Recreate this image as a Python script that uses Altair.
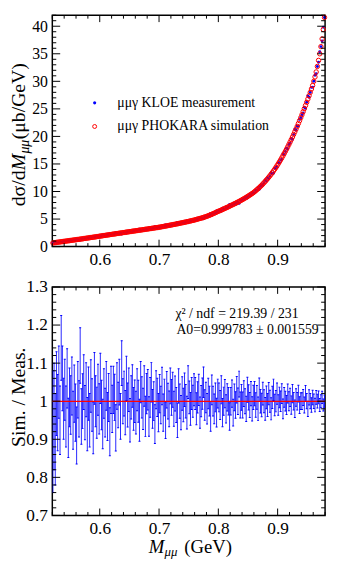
import altair as alt
import pandas as pd

FONT = "Liberation Serif"
X_DOMAIN = [0.52, 0.98]

# bin centres (GeV), 2 MeV bins
bin_centres = [round(0.521 + 0.002 * i, 3) for i in range(230)]

# PHOKARA simulation, dsigma/dM (ub/GeV)
sim_xsec = [
    0.67, 0.70, 0.73, 0.76, 0.79, 0.82, 0.85, 0.88, 0.91, 0.94,
    0.97, 1.00, 1.03, 1.06, 1.09, 1.12, 1.15, 1.18, 1.21, 1.24,
    1.27, 1.30, 1.33, 1.36, 1.39, 1.42, 1.46, 1.49, 1.52, 1.55,
    1.58, 1.62, 1.65, 1.68, 1.71, 1.74, 1.78, 1.81, 1.84, 1.88,
    1.91, 1.94, 1.98, 2.01, 2.04, 2.07, 2.11, 2.14, 2.17, 2.20,
    2.24, 2.27, 2.30, 2.33, 2.37, 2.40, 2.43, 2.46, 2.50, 2.53,
    2.56, 2.59, 2.63, 2.66, 2.69, 2.72, 2.75, 2.79, 2.82, 2.85,
    2.88, 2.91, 2.95, 2.98, 3.01, 3.04, 3.07, 3.11, 3.14, 3.17,
    3.20, 3.23, 3.27, 3.30, 3.33, 3.36, 3.40, 3.43, 3.46, 3.49,
    3.53, 3.57, 3.61, 3.65, 3.69, 3.73, 3.77, 3.81, 3.86, 3.90,
    3.94, 3.98, 4.02, 4.06, 4.11, 4.15, 4.19, 4.24, 4.28, 4.33,
    4.37, 4.42, 4.46, 4.51, 4.56, 4.61, 4.66, 4.71, 4.76, 4.81,
    4.87, 4.93, 4.99, 5.05, 5.11, 5.17, 5.23, 5.30, 5.37, 5.44,
    5.52, 5.60, 5.69, 5.78, 5.87, 5.97, 6.06, 6.16, 6.26, 6.36,
    6.45, 6.55, 6.64, 6.74, 6.83, 6.93, 7.03, 7.13, 7.23, 7.33,
    7.45, 7.55, 7.65, 7.76, 7.87, 7.98, 8.09, 8.20, 8.32, 8.44,
    8.56, 8.68, 8.81, 8.94, 9.07, 9.21, 9.35, 9.49, 9.64, 9.79,
    9.96, 10.14, 10.33, 10.52, 10.72, 10.93, 11.14, 11.36, 11.59, 11.83,
    12.07, 12.33, 12.59, 12.86, 13.14, 13.43, 13.73, 14.04, 14.36, 14.69,
    15.03, 15.38, 15.74, 16.11, 16.49, 16.88, 17.28, 17.69, 18.11, 18.54,
    18.98, 19.43, 19.89, 20.36, 20.84, 21.33, 21.83, 22.34, 22.86, 23.39,
    23.93, 24.48, 25.04, 25.61, 26.19, 26.78, 27.38, 27.99, 28.61, 29.24,
    30.00, 30.80, 31.70, 32.70, 33.80, 35.00, 36.30, 37.70, 39.40, 41.60,
]

# Sim. / Meas. ratio per bin
ratio = [
    0.92, 0.96, 0.90, 1.02, 0.97, 1.05, 0.95, 1.14, 1.06, 0.98,
    1.03, 0.96, 1.06, 0.93, 1.01, 0.99, 1.04, 0.95, 1.02, 0.97,
    0.91, 1.03, 0.98, 1.12, 0.96, 1.00, 1.05, 0.97, 1.03, 0.94,
    1.02, 0.95, 1.04, 0.99, 0.93, 1.06, 1.00, 0.97, 1.03, 0.98,
    1.06, 0.99, 0.94, 1.02, 0.97, 1.04, 0.96, 1.01, 0.92, 1.03,
    0.98, 1.03, 1.01, 0.93, 1.04, 0.99, 1.05, 0.96, 1.10, 1.00,
    1.02, 0.97, 1.06, 0.99, 1.03, 0.95, 1.01, 1.04, 0.98, 1.00,
    0.97, 1.03, 1.00, 0.95, 1.05, 1.01, 0.98, 1.04, 0.96, 1.02,
    1.03, 0.96, 1.01, 1.05, 0.98, 1.00, 0.94, 1.03, 1.01, 0.97,
    1.02, 0.99, 1.04, 0.97, 1.01, 0.95, 1.03, 1.00, 0.98, 1.04,
    1.01, 1.03, 0.98, 1.02, 0.99, 0.95, 1.04, 1.00, 0.97, 1.02,
    0.99, 1.03, 1.00, 0.97, 1.05, 1.01, 0.98, 1.02, 1.00, 1.03,
    1.02, 0.98, 1.01, 1.03, 0.97, 1.00, 1.02, 1.05, 0.99, 1.01,
    0.98, 1.02, 1.00, 0.96, 1.03, 1.00, 0.98, 1.01, 0.97, 1.02,
    1.01, 0.99, 1.03, 0.97, 1.00, 1.02, 0.98, 1.01, 1.00, 0.96,
    1.00, 1.02, 0.97, 1.01, 0.99, 1.03, 1.00, 1.045, 0.99, 1.01,
    0.99, 1.02, 1.00, 0.98, 1.03, 1.01, 0.99, 1.02, 0.98, 1.01,
    1.02, 0.99, 1.01, 0.98, 1.03, 1.00, 0.99, 1.02, 1.00, 0.98,
    1.01, 0.99, 1.02, 1.00, 0.98, 1.01, 1.03, 0.99, 1.00, 1.02,
    0.99, 1.01, 1.00, 1.02, 0.98, 1.01, 1.00, 0.99, 1.02, 1.00,
    1.01, 0.99, 1.02, 1.00, 0.98, 1.01, 1.00, 1.02, 0.99, 1.00,
    1.00, 1.01, 0.99, 1.02, 1.00, 0.98, 1.01, 1.00, 0.99, 1.01,
    1.00, 0.99, 1.01, 1.00, 1.01, 0.99, 1.00, 1.01, 0.99, 1.00,
]

ratio_err = [
    0.160, 0.140, 0.120, 0.110, 0.100, 0.095, 0.090, 0.085, 0.085, 0.080,
    0.080, 0.080, 0.078, 0.078, 0.077, 0.077, 0.076, 0.076, 0.075, 0.075,
    0.075, 0.074, 0.074, 0.073, 0.073, 0.072, 0.072, 0.071, 0.071, 0.070,
    0.070, 0.070, 0.069, 0.069, 0.068, 0.068, 0.067, 0.067, 0.067, 0.066,
    0.066, 0.065, 0.065, 0.065, 0.064, 0.064, 0.063, 0.063, 0.063, 0.062,
    0.062, 0.062, 0.061, 0.061, 0.061, 0.060, 0.060, 0.060, 0.059, 0.059,
    0.059, 0.058, 0.058, 0.058, 0.057, 0.057, 0.057, 0.056, 0.056, 0.056,
    0.056, 0.055, 0.055, 0.055, 0.054, 0.054, 0.054, 0.053, 0.053, 0.053,
    0.053, 0.052, 0.052, 0.052, 0.051, 0.051, 0.051, 0.050, 0.050, 0.050,
    0.050, 0.049, 0.049, 0.049, 0.048, 0.048, 0.048, 0.047, 0.047, 0.047,
    0.047, 0.046, 0.046, 0.046, 0.046, 0.045, 0.045, 0.045, 0.045, 0.044,
    0.044, 0.044, 0.044, 0.043, 0.043, 0.043, 0.043, 0.042, 0.042, 0.042,
    0.042, 0.042, 0.041, 0.041, 0.041, 0.041, 0.041, 0.040, 0.040, 0.040,
    0.040, 0.040, 0.039, 0.039, 0.039, 0.039, 0.039, 0.038, 0.038, 0.038,
    0.038, 0.038, 0.037, 0.037, 0.037, 0.037, 0.037, 0.036, 0.036, 0.036,
    0.036, 0.036, 0.035, 0.035, 0.035, 0.035, 0.035, 0.034, 0.034, 0.034,
    0.034, 0.034, 0.033, 0.033, 0.033, 0.033, 0.033, 0.032, 0.032, 0.032,
    0.032, 0.032, 0.031, 0.031, 0.031, 0.031, 0.031, 0.030, 0.030, 0.030,
    0.030, 0.030, 0.029, 0.029, 0.029, 0.029, 0.028, 0.028, 0.028, 0.028,
    0.027, 0.027, 0.027, 0.026, 0.026, 0.026, 0.026, 0.025, 0.025, 0.025,
    0.024, 0.024, 0.024, 0.023, 0.023, 0.023, 0.023, 0.022, 0.022, 0.022,
    0.022, 0.021, 0.021, 0.021, 0.020, 0.020, 0.020, 0.020, 0.019, 0.019,
    0.019, 0.018, 0.018, 0.018, 0.017, 0.017, 0.017, 0.016, 0.016, 0.016,
]

fit_A0 = 0.999783

x_major = [0.6, 0.7, 0.8, 0.9]
x_minor = [round(0.52 + 0.02 * i, 2) for i in range(24)]
x_minor = [v for v in x_minor if v not in x_major]
y1_major = [0, 5, 10, 15, 20, 25, 30, 35, 40]
y1_minor = [v for v in range(0, 43) if v % 5 != 0]
y2_major = [0.7, 0.8, 0.9, 1.0, 1.1, 1.2, 1.3]
y2_minor = [round(0.7 + 0.02 * i, 2) for i in range(31)]
y2_minor = [v for v in y2_minor if round(v * 10, 6) != round(v * 10)]

meas_xsec = [s / r for s, r in zip(sim_xsec, ratio)]

df_top = pd.DataFrame({"mass": bin_centres, "meas": meas_xsec, "sim": sim_xsec})
df_ratio = pd.DataFrame({
    "mass": bin_centres,
    "lo": [r - e for r, e in zip(ratio, ratio_err)],
    "hi": [r + e for r, e in zip(ratio, ratio_err)],
})
df_fit = pd.DataFrame({"x1": [X_DOMAIN[0]], "x2": [X_DOMAIN[1]], "y": [fit_A0]})
one = pd.DataFrame({"k": [0]})

W, H1, H2 = 277, 235, 232
xscale = alt.Scale(domain=X_DOMAIN, nice=False, zero=False)
y1scale = alt.Scale(domain=[0, 42], nice=False, zero=False)
y2scale = alt.Scale(domain=[0.7, 1.3], nice=False, zero=False)

axis_common = dict(labelFont=FONT, labelColor="black", ticks=False, domain=False,
                   grid=False, title=None)
x_axis = alt.Axis(values=x_major, format=".1f", labelFontSize=17.5, labelPadding=4,
                  **axis_common)
y1_axis = alt.Axis(values=y1_major, format="d", labelFontSize=16, labelPadding=5,
                   **axis_common)
y2_axis = alt.Axis(values=y2_major, labelFontSize=17.5, labelPadding=5,
                   labelExpr="datum.value == 1 ? '1' : format(datum.value, '.1f')",
                   **axis_common)


def frame_ticks(yscale, yaxis, ymaj, ymin, H):
    out = []
    for vals, L in ((x_major, 7), (x_minor, 3.5)):
        d = pd.DataFrame({"v": vals})
        out.append(alt.Chart(d).mark_rule(color="black", strokeWidth=1).encode(
            x=alt.X("v:Q", scale=xscale, axis=x_axis), y=alt.value(H), y2=alt.value(H - L)))
        out.append(alt.Chart(d).mark_rule(color="black", strokeWidth=1).encode(
            x=alt.X("v:Q", scale=xscale, axis=x_axis), y=alt.value(0), y2=alt.value(L)))
    for vals, L in ((ymaj, 8), (ymin, 4)):
        d = pd.DataFrame({"v": vals})
        out.append(alt.Chart(d).mark_rule(color="black", strokeWidth=1).encode(
            y=alt.Y("v:Q", scale=yscale, axis=yaxis), x=alt.value(0), x2=alt.value(L)))
        out.append(alt.Chart(d).mark_rule(color="black", strokeWidth=1).encode(
            y=alt.Y("v:Q", scale=yscale, axis=yaxis), x=alt.value(W), x2=alt.value(W - L)))
    return out


def txt(s, x, y, size, align="left", baseline="alphabetic", angle=0, style="normal"):
    kw = dict(text=s, align=align, baseline=baseline, font=FONT, fontSize=size,
              color="black", fontStyle=style)
    if angle:
        kw["angle"] = angle
    return alt.Chart(one).mark_text(**kw).encode(x=alt.value(x), y=alt.value(y))


# ---------------- top panel ----------------
meas_layer = alt.Chart(df_top).mark_circle(color="#0000ff", size=9, opacity=1).encode(
    x=alt.X("mass:Q", scale=xscale, axis=x_axis),
    y=alt.Y("meas:Q", scale=y1scale, axis=y1_axis),
)
sim_layer = alt.Chart(df_top).mark_point(shape="circle", filled=False, color="#ff0000",
                                         size=20, strokeWidth=1, opacity=1).encode(
    x=alt.X("mass:Q", scale=xscale, axis=x_axis),
    y=alt.Y("sim:Q", scale=y1scale, axis=y1_axis),
)

legend_layers = [
    alt.Chart(one).mark_circle(color="#0000ff", size=10, opacity=1).encode(
        x=alt.value(43), y=alt.value(89)),
    alt.Chart(one).mark_point(shape="circle", filled=False, color="#ff0000", size=16,
                              strokeWidth=1, opacity=1).encode(x=alt.value(43), y=alt.value(113)),
    txt("μμγ KLOE measurement", 66, 89, 14, baseline="middle"),
    txt("μμγ PHOKARA simulation", 66, 113, 14, baseline="middle"),
]

ytitle_top = [
    txt("dσ/d", -28, 194, 20, angle=270),
    txt("M", -28, 157.5, 20, angle=270, style="italic"),
    txt("μμ", -24, 140.5, 14, angle=270, style="italic"),
    txt("(μb/GeV)", -28, 126, 20, angle=270),
]

top = alt.layer(
    meas_layer, sim_layer,
    *frame_ticks(y1scale, y1_axis, y1_major, y1_minor, H1),
    *legend_layers, *ytitle_top,
).properties(width=W, height=H1)

# ---------------- bottom panel ----------------
bars = alt.Chart(df_ratio).mark_rule(color="#0000ff", strokeWidth=1, opacity=0.85,
                                     clip=True).encode(
    x=alt.X("mass:Q", scale=xscale, axis=x_axis),
    y=alt.Y("lo:Q", scale=y2scale, axis=y2_axis),
    y2="hi:Q",
)
cap_lo = alt.Chart(df_ratio).mark_tick(orient="horizontal", color="#0000ff", size=2,
                                       thickness=1, opacity=1, clip=True).encode(
    x=alt.X("mass:Q", scale=xscale, axis=x_axis), y=alt.Y("lo:Q", scale=y2scale, axis=y2_axis))
cap_hi = alt.Chart(df_ratio).mark_tick(orient="horizontal", color="#0000ff", size=2,
                                       thickness=1, opacity=1, clip=True).encode(
    x=alt.X("mass:Q", scale=xscale, axis=x_axis), y=alt.Y("hi:Q", scale=y2scale, axis=y2_axis))
fit_line = alt.Chart(df_fit).mark_rule(color="#ff0000", strokeWidth=1.2).encode(
    x=alt.X("x1:Q", scale=xscale, axis=x_axis), x2="x2:Q",
    y=alt.Y("y:Q", scale=y2scale, axis=y2_axis))

bottom_texts = [
    txt("χ² / ndf = 219.39 / 231", 125, 31, 14),
    txt("A0=0.999783 ± 0.001559", 126, 48, 14),
    txt("Sim. / Meas.", -28, 112, 20, align="center", angle=270),
    txt("M", 98, H2 + 38, 19, style="italic"),
    txt("μμ", 114, H2 + 41, 13, style="italic"),
    txt("(GeV)", 134, H2 + 38, 19),
]

bottom = alt.layer(
    bars, cap_lo, cap_hi, fit_line,
    *frame_ticks(y2scale, y2_axis, y2_major, y2_minor, H2),
    *bottom_texts,
).properties(width=W, height=H2)

chart = alt.vconcat(top, bottom, spacing=41, bounds="flush").properties(
    padding=0
).configure_view(stroke="black", strokeWidth=1.5)

chart.save("out.html", embed_options={"renderer": "svg", "actions": False})
